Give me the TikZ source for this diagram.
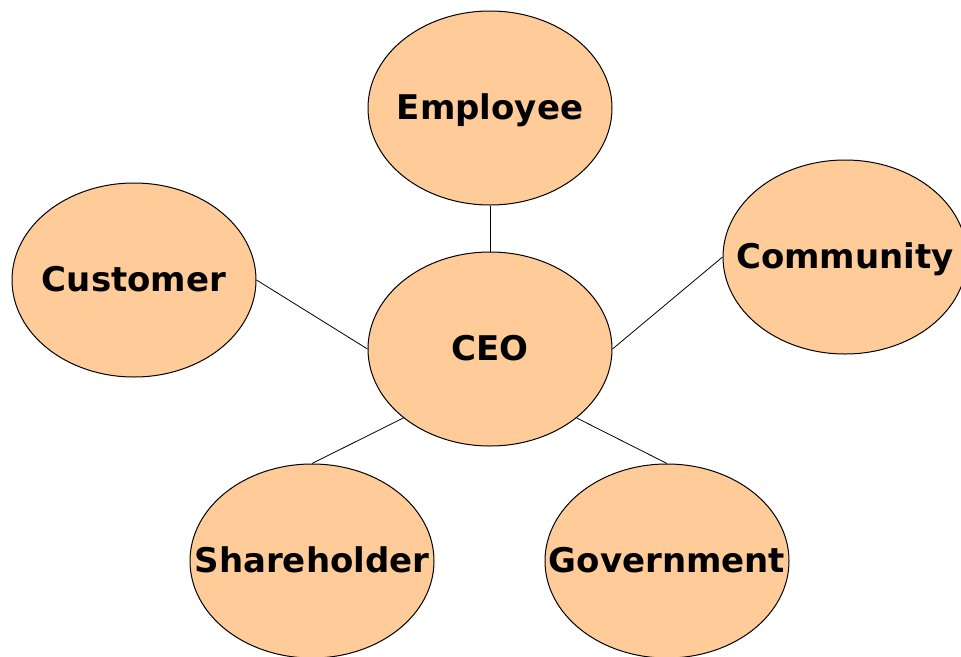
\documentclass[tikz,border=0pt]{standalone}
\usepackage{fontspec}
\setmainfont{DejaVu Sans}
\usetikzlibrary{shapes.geometric}

% keep the ellipse at its own size, whatever the word
\newcommand{\stake}[1]{\makebox[0pt]{#1}}

\begin{document}
\begin{tikzpicture}[x=1pt,y=-1pt,
	party/.style={ellipse, draw=black, line width=1pt, fill=peach,
		minimum width=244pt, minimum height=194pt, inner sep=0pt,
		font=\fontsize{34}{36}\selectfont\bfseries,
		text height=23pt, text depth=0pt},
	tie/.style={draw=black, line width=0.8pt}]
	\definecolor{peach}{HTML}{FFCC99}
	\useasboundingbox (0,0) rectangle (961,656);
	
	\node[party] (ceo) at (490,349) {\stake{CEO}};
	\node[party] (employee) at (490,108) {\stake{Employee}};
	\node[party] (customer) at (134,280) {\stake{Customer}};
	\node[party] (community) at (845,257) {\stake{Community}};
	\node[party] (shareholder) at (312,561) {\stake{Shareholder}};
	\node[party] (government) at (667,561) {\stake{Government}};
	
	\draw[tie] (employee.south) -- (ceo.north);
	\draw[tie] (customer.east) -- (ceo.west);
	\draw[tie] (ceo.east) -- (community.west);
	\draw[tie] (ceo.south west) -- (shareholder.north);
	\draw[tie] (ceo.south east) -- (government.north);
	
\end{tikzpicture}
\end{document}
